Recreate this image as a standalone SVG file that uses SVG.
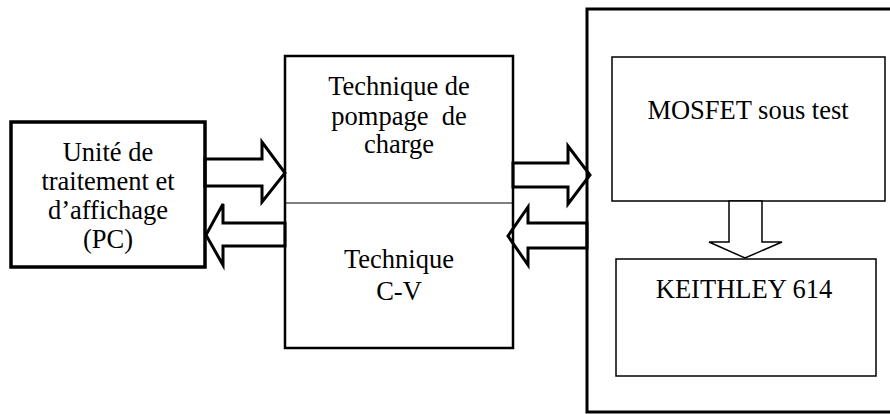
<svg xmlns="http://www.w3.org/2000/svg" width="890" height="414" viewBox="0 0 890 414">
<style>
text{font-family:"Liberation Serif","Times New Roman",serif;font-size:26.5px;fill:#000;text-anchor:middle}
.arr{fill:#fff;stroke:#000;stroke-width:3;stroke-linejoin:miter}
.thin{fill:#fff;stroke:#000;stroke-width:1.5}
</style>
<rect width="890" height="414" fill="#fff"/>
<g id="connectors">
<polygon class="arr" points="205,159 262,159 262,142 285,173 262,202 262,186 205,186"/>
<polygon class="arr" points="285,223 223,223 223,204 206,235 223,265 223,246 285,246"/>
<polygon class="arr" points="513,163 568,163 568,146 590,175 568,204 568,187 513,187"/>
<polygon class="arr" points="587,223 528,223 528,207 508,236 528,265 528,248 587,248"/>
</g>
<g id="pc">
<rect x="11" y="122" width="194" height="145" fill="none" stroke="#000" stroke-width="3.5"/>
<text x="108" y="161">Unité de</text>
<text x="108" y="190">traitement et</text>
<text x="108" y="219">d’affichage</text>
<text x="108" y="248">(PC)</text>
</g>
<g id="techniques">
<rect x="285" y="56" width="228" height="292" fill="none" stroke="#000" stroke-width="2.5"/>
<line x1="285" y1="203" x2="513" y2="203" stroke="#000" stroke-width="1"/>
<text x="399" y="95">Technique de</text>
<text x="399" y="125" xml:space="preserve">pompage  de</text>
<text x="399" y="153">charge</text>
<text x="399" y="268">Technique</text>
<text x="399" y="300">C-V</text>
</g>
<g id="bench">
<rect x="587" y="9" width="320" height="403" fill="none" stroke="#000" stroke-width="3"/>
</g>
<g id="mosfet">
<rect class="thin" x="612" y="57" width="273" height="144"/>
<text x="748" y="119">MOSFET sous test</text>
</g>
<g id="connector-down">
<polygon class="thin" points="729,201 729,242 709,242 745,258 782,242 762,242 762,201"/>
</g>
<g id="keithley">
<rect class="thin" x="616" y="259" width="260" height="117"/>
<text x="744" y="298">KEITHLEY 614</text>
</g>
</svg>
